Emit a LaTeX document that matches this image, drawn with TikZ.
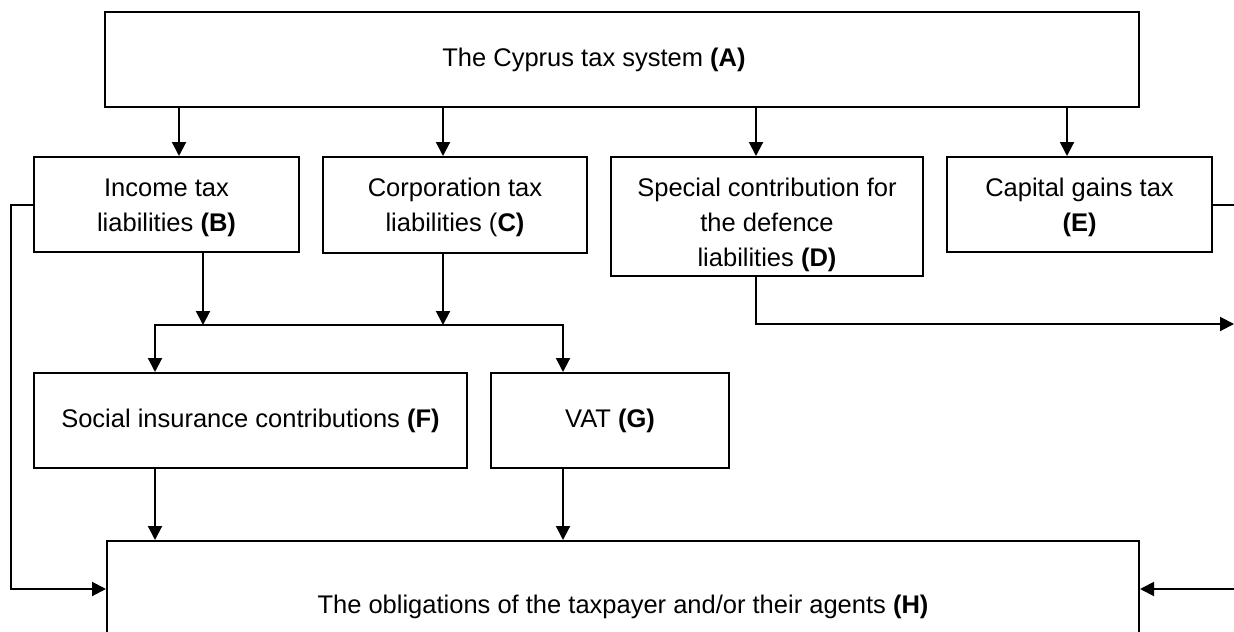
\documentclass[tikz,border=0pt]{standalone}
\usepackage{fontspec}
\setmainfont{Liberation Sans}
\usetikzlibrary{arrows.meta}
\begin{document}
\begin{tikzpicture}[x=0.5pt,y=-0.5pt,
  box/.style={draw, line width=1pt, inner sep=0pt, align=center,
    font=\fontsize{12.75pt}{17.5pt}\selectfont},
  conn/.style={line width=1pt},
  tip/.tip={Triangle[length=7pt,width=7pt]},
  arr/.style={conn, -tip}]
\useasboundingbox (0,0) rectangle (1234,631);
\clip (0,0) rectangle (1234,631);

% boxes
\node[box, minimum width=517pt, minimum height=47.5pt] (A) at (622,59.5)
  {\hspace*{-28pt}The Cyprus tax system \textbf{(A)}};
\node[box, minimum width=132.5pt, minimum height=47.5pt] (B) at (166.5,204.5)
  {\raisebox{-1pt}[\height][\depth]{\begin{tabular}{@{}c@{}}Income tax\\liabilities \textbf{(B)}\end{tabular}}};
\node[box, minimum width=132pt, minimum height=48pt] (C) at (455,205)
  {\raisebox{-1pt}[\height][\depth]{\begin{tabular}{@{}c@{}}Corporation tax\\liabilities (\textbf{C)}\end{tabular}}};
\node[box, minimum width=156pt, minimum height=59.5pt] (D) at (767,216.5)
  {\raisebox{-4pt}[\height][\depth]{\begin{tabular}{@{}c@{}}Special contribution for\\the defence\\liabilities \textbf{(D)}\end{tabular}}};
\node[box, minimum width=132.5pt, minimum height=47.5pt] (E) at (1079.5,204.5)
  {\raisebox{-1pt}[\height][\depth]{\begin{tabular}{@{}c@{}}Capital gains tax\\\textbf{(E)}\end{tabular}}};
\node[box, minimum width=216.5pt, minimum height=47.5pt] (F) at (250.5,420.5)
  {Social insurance contributions \textbf{(F)}};
\node[box, minimum width=119pt, minimum height=47.5pt] (G) at (610,420.5)
  {VAT \textbf{(G)}};
\node[box, minimum width=516pt, minimum height=66pt] (H) at (623,607)
  {The obligations of the taxpayer and/or their agents \textbf{(H)}};

% helper coordinates
\coordinate (xAB) at (179,0);
\coordinate (xAC) at (443,0);
\coordinate (xAD) at (756,0);
\coordinate (xAE) at (1067,0);
\coordinate (xB) at (203,0);
\coordinate (jl) at (155,325);
\coordinate (jr) at (563,325);
\coordinate (ll) at (11,0);
\coordinate (rr) at (1250,0);
\coordinate (yH) at (0,589);
\coordinate (dr) at (1234,324);

% A to B..E
\draw[arr] (A.south -| xAB) -- (B.north -| xAB);
\draw[arr] (A.south -| xAC) -- (C.north -| xAC);
\draw[arr] (A.south -| xAD) -- (D.north -| xAD);
\draw[arr] (A.south -| xAE) -- (E.north -| xAE);

% B, C to junction
\draw[arr] (B.south -| xB) -- (xB |- jl);
\draw[arr] (C.south -| xAC) -- (xAC |- jl);
\draw[conn, tip-tip] (F.north -| jl) -- (jl) -- (jr) -- (G.north -| jr);

% F, G to H
\draw[arr] (F.south -| jl) -- (H.north -| jl);
\draw[arr] (G.south -| jr) -- (H.north -| jr);

% side loops
\draw[arr] (B.west) -- (B.west -| ll) -- (ll |- yH) -- (H.west |- yH);
\draw[arr] (E.east) -- (E.east -| rr) -- (rr |- yH) -- (H.east |- yH);

% D onward
\draw[arr] (D.south -| xAD) -- (xAD |- dr) -- (dr);
\end{tikzpicture}
\end{document}
